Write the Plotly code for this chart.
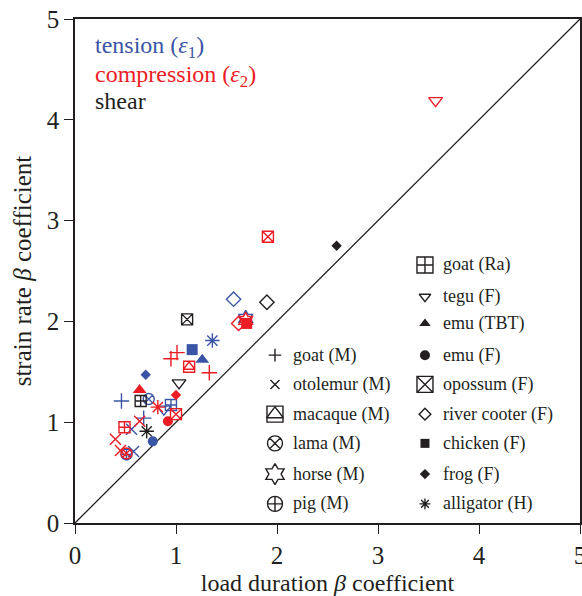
import plotly.graph_objects as go

# ---------------- data ----------------
# tension (epsilon 1) - blue
tension_species = ["goat (M)", "goat (M)", "otolemur (M)", "otolemur (M)", "lama (M)", "pig (M)",
                   "horse (M)", "goat (Ra)", "tegu (F)", "emu (TBT)", "emu (F)", "river cooter (F)",
                   "chicken (F)", "frog (F)", "alligator (H)"]
tension_x = [0.46, 0.68, 0.56, 0.58, 0.73, 0.51, 1.69, 0.95, 0.88, 1.26, 0.77, 1.57, 1.16, 0.70, 1.36]
tension_y = [1.21, 1.04, 0.93, 0.71, 1.23, 0.68, 2.03, 1.17, 1.13, 1.62, 0.81, 2.22, 1.72, 1.47, 1.81]

# compression (epsilon 2) - red
compression_species = ["goat (M)", "goat (M)", "goat (M)", "otolemur (M)", "otolemur (M)", "otolemur (M)",
                       "macaque (M)", "lama (M)", "horse (M)", "goat (Ra)", "tegu (F)", "emu (TBT)",
                       "emu (F)", "opossum (F)", "opossum (F)", "river cooter (F)", "chicken (F)",
                       "frog (F)", "alligator (H)"]
compression_x = [0.95, 1.01, 1.33, 0.64, 0.40, 0.45, 1.13, 0.51, 1.69, 0.49, 3.57, 0.64,
                 0.92, 1.91, 1.00, 1.62, 1.70, 1.00, 0.82]
compression_y = [1.63, 1.69, 1.49, 1.01, 0.83, 0.72, 1.55, 0.69, 2.01, 0.95, 4.19, 1.32,
                 1.01, 2.84, 1.08, 1.98, 1.98, 1.27, 1.15]

# shear - black
shear_species = ["goat (Ra)", "tegu (F)", "opossum (F)", "river cooter (F)", "frog (F)", "alligator (H)"]
shear_x = [0.65, 1.03, 1.11, 1.90, 2.59, 0.71]
shear_y = [1.21, 1.39, 2.02, 2.19, 2.75, 0.91]

axis_ticks = [0, 1, 2, 3, 4, 5]
legend_left = ["goat (M)", "otolemur (M)", "macaque (M)", "lama (M)", "horse (M)", "pig (M)"]
legend_right = ["goat (Ra)", "tegu (F)", "emu (TBT)", "emu (F)", "opossum (F)",
                "river cooter (F)", "chicken (F)", "frog (F)", "alligator (H)"]

# ---------------- styles ----------------
BLUE = "#3a55a5"
RED = "#ec1c24"
BLACK = "#231f20"
FONT = "Liberation Serif, Times New Roman, DejaVu Serif, serif"

SYMBOL = {
    "goat (M)": "cross-thin-open", "otolemur (M)": "x-thin-open", "macaque (M)": "square-open",
    "lama (M)": "circle-x-open", "horse (M)": "hexagram-open", "pig (M)": "circle-cross-open",
    "goat (Ra)": "square-cross-open", "tegu (F)": "triangle-down-open", "emu (TBT)": "triangle-up",
    "emu (F)": "circle", "opossum (F)": "square-x-open", "river cooter (F)": "diamond-open",
    "chicken (F)": "square", "frog (F)": "diamond", "alligator (H)": "asterisk-open",
}
DATA_SIZE = {
    "goat (M)": 11, "otolemur (M)": 11, "macaque (M)": 11, "lama (M)": 11, "horse (M)": 12,
    "pig (M)": 11, "goat (Ra)": 11, "tegu (F)": 12, "emu (TBT)": 12, "emu (F)": 10,
    "opossum (F)": 11, "river cooter (F)": 11, "chicken (F)": 11, "frog (F)": 8, "alligator (H)": 12,
}
LEG_SIZE = {
    "goat (M)": 9, "otolemur (M)": 9, "macaque (M)": 16, "lama (M)": 15, "horse (M)": 16,
    "pig (M)": 15, "goat (Ra)": 16, "tegu (F)": 10, "emu (TBT)": 10, "emu (F)": 10,
    "opossum (F)": 16, "river cooter (F)": 9, "chicken (F)": 9, "frog (F)": 8, "alligator (H)": 9,
}

fig = go.Figure()

# y = x reference line
fig.add_trace(go.Scatter(x=[axis_ticks[0], axis_ticks[-1]], y=[axis_ticks[0], axis_ticks[-1]],
                         mode="lines", line=dict(color=BLACK, width=1.3),
                         hoverinfo="skip", showlegend=False))


def add_points(species, xs, ys, color, xaxis="x", yaxis="y", sizes=DATA_SIZE):
    order = []
    for s in species:
        if s not in order:
            order.append(s)
    for s in order:
        px = [x for sp, x in zip(species, xs) if sp == s]
        py = [y for sp, y in zip(species, ys) if sp == s]
        sym = SYMBOL[s]
        filled = not (sym.endswith("-open"))
        size = sizes[s]
        marker = dict(symbol=sym, size=size, color=color,
                      line=dict(color=color, width=0 if filled else 1.4))
        fig.add_trace(go.Scatter(x=px, y=py, mode="markers", marker=marker, name=s,
                                 showlegend=False, cliponaxis=False, xaxis=xaxis, yaxis=yaxis))
        if s == "macaque (M)":
            fig.add_trace(go.Scatter(x=px, y=py, mode="markers",
                                     marker=dict(symbol="triangle-up-open", size=size * 0.9,
                                                 color=color, line=dict(color=color, width=1.4)),
                                     showlegend=False, cliponaxis=False, xaxis=xaxis, yaxis=yaxis))


add_points(tension_species, tension_x, tension_y, BLUE)
add_points(compression_species, compression_x, compression_y, RED)
add_points(shear_species, shear_x, shear_y, BLACK)

# ---------------- custom legend (in plot-area fractions) ----------------
left_sym_x, left_txt_x = 0.396, 0.428
right_sym_x, right_txt_x = 0.693, 0.725
left_rows = [0.333, 0.275, 0.216, 0.158, 0.097, 0.038]
right_rows = [0.512, 0.449, 0.396, 0.333, 0.275, 0.216, 0.158, 0.097, 0.038]

add_points(legend_left, [left_sym_x] * len(legend_left), left_rows, BLACK, "x2", "y2", LEG_SIZE)
add_points(legend_right, [right_sym_x] * len(legend_right), right_rows, BLACK, "x2", "y2", LEG_SIZE)

annotations = []
for name, yy in zip(legend_left, left_rows):
    annotations.append(dict(x=left_txt_x, y=yy, xref="x domain", yref="y domain", text=name,
                            showarrow=False, xanchor="left", yanchor="middle",
                            font=dict(family=FONT, size=18, color=BLACK)))
for name, yy in zip(legend_right, right_rows):
    annotations.append(dict(x=right_txt_x, y=yy, xref="x domain", yref="y domain", text=name,
                            showarrow=False, xanchor="left", yanchor="middle",
                            font=dict(family=FONT, size=18, color=BLACK)))

for txt, yy, col in [("tension (<i>ε</i><sub>1</sub>)", 0.944, BLUE),
                     ("compression (<i>ε</i><sub>2</sub>)", 0.887, RED),
                     ("shear", 0.837, BLACK)]:
    annotations.append(dict(x=0.036, y=yy, xref="x domain", yref="y domain", text=txt,
                            showarrow=False, xanchor="left", yanchor="middle",
                            font=dict(family=FONT, size=24, color=col)))

axis_common = dict(range=[0, 5], tickvals=axis_ticks, showgrid=False, zeroline=False,
                   showline=True, mirror=True, linecolor=BLACK, linewidth=1.5,
                   ticks="outside", ticklen=9, tickwidth=1.3, tickcolor=BLACK,
                   tickfont=dict(family=FONT, size=25, color=BLACK), automargin=False,
                   ticklabeloverflow="allow")

fig.update_layout(
    width=582, height=596,
    margin=dict(l=75, r=2, t=19, b=73, autoexpand=False),
    paper_bgcolor="white", plot_bgcolor="white",
    font=dict(family=FONT, color=BLACK),
    xaxis=dict(**axis_common,
               title=dict(text="load duration <i>β</i> coefficient", standoff=6,
                          font=dict(family=FONT, size=24, color=BLACK))),
    yaxis=dict(**axis_common,
               title=dict(text="strain rate <i>β</i> coefficient", standoff=8,
                          font=dict(family=FONT, size=25, color=BLACK))),
    xaxis2=dict(range=[0, 1], overlaying="x", visible=False),
    yaxis2=dict(range=[0, 1], overlaying="y", visible=False),
    annotations=annotations,
    showlegend=False,
)

# remove the default page margin so the figure sits at the window's top-left corner
fig.write_html("out.html", config={"displayModeBar": False},
               post_script="document.body.style.margin='0px';document.body.style.overflow='hidden';")
